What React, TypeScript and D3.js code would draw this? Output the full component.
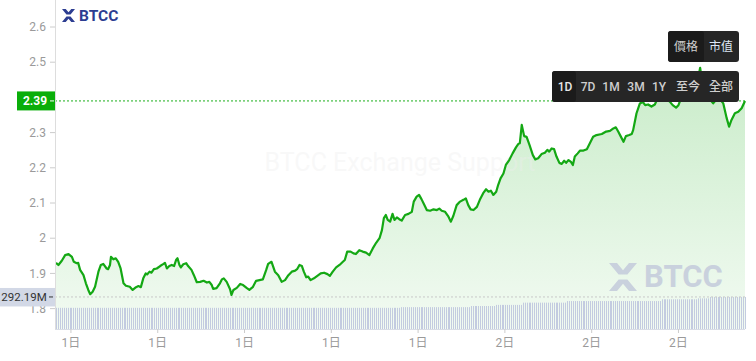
import React from "react";
import * as d3 from "d3";

const W = 756;
const H = 361;

// minutes since 1日 08:29
const priceTimes = [
  0, 5, 12, 19, 26, 33, 37, 43, 46, 50,
  57, 62, 67, 71, 76, 81, 88, 93, 98, 105,
  108, 112, 114, 119, 124, 129, 134, 140, 145, 153,
  159, 166, 171, 176, 181, 186, 189, 194, 198, 203,
  209, 216, 223, 226, 230, 235, 240, 245, 249, 252,
  256, 259, 264, 270, 274, 281, 286, 292, 299, 306,
  313, 318, 323, 326, 333, 340, 344, 348, 354, 361,
  364, 368, 375, 382, 388, 396, 401, 408, 415, 422,
  429, 436, 440, 447, 454, 461, 468, 475, 482, 489,
  496, 500, 505, 510, 514, 519, 523, 528, 535, 542,
  549, 556, 563, 568, 574, 581, 588, 595, 599, 604,
  611, 617, 622, 629, 636, 643, 650, 657, 664, 671,
  676, 680, 684, 688, 693, 698, 702, 707, 712, 717,
  724, 731, 738, 742, 748, 753, 758, 763, 769, 776,
  783, 790, 795, 800, 807, 814, 819, 824, 831, 838,
  845, 850, 855, 860, 866, 873, 879, 886, 892, 897,
  902, 907, 913, 917, 922, 928, 933, 940, 947, 954,
  959, 962, 966, 971, 976, 982, 989, 994, 1000, 1007,
  1014, 1019, 1023, 1028, 1033, 1038, 1044, 1049, 1054, 1058,
  1063, 1068, 1072, 1076, 1082, 1087, 1094, 1101, 1108, 1114,
  1121, 1132, 1141, 1149, 1156, 1161, 1166, 1171, 1177, 1182,
  1189, 1194, 1197, 1204, 1211, 1217, 1222, 1228, 1235, 1242,
  1249, 1257, 1265, 1273, 1279, 1286, 1291, 1298, 1307, 1315,
  1323, 1329, 1336, 1340, 1346, 1352, 1360, 1363, 1369, 1375,
  1384, 1391, 1396, 1401, 1408, 1415, 1422, 1429,
];

const prices = [
  1.930, 1.924, 1.936, 1.952, 1.955, 1.947, 1.933, 1.929, 1.930, 1.910,
  1.895, 1.872, 1.853, 1.841, 1.848, 1.862, 1.905, 1.924, 1.927, 1.914,
  1.912, 1.924, 1.947, 1.940, 1.943, 1.933, 1.914, 1.872, 1.865, 1.862,
  1.853, 1.861, 1.864, 1.861, 1.886, 1.900, 1.897, 1.905, 1.902, 1.912,
  1.914, 1.921, 1.927, 1.930, 1.914, 1.921, 1.924, 1.921, 1.938, 1.943,
  1.924, 1.917, 1.926, 1.929, 1.921, 1.910, 1.895, 1.875, 1.876, 1.879,
  1.874, 1.876, 1.867, 1.856, 1.858, 1.872, 1.883, 1.886, 1.876, 1.855,
  1.839, 1.853, 1.859, 1.870, 1.867, 1.858, 1.853, 1.861, 1.879, 1.881,
  1.883, 1.910, 1.927, 1.933, 1.905, 1.895, 1.876, 1.881, 1.895, 1.905,
  1.908, 1.912, 1.924, 1.921, 1.905, 1.889, 1.891, 1.881, 1.886, 1.893,
  1.900, 1.902, 1.898, 1.893, 1.905, 1.917, 1.924, 1.933, 1.938, 1.962,
  1.962, 1.957, 1.955, 1.966, 1.962, 1.959, 1.952, 1.971, 1.987, 2.000,
  2.023, 2.057, 2.066, 2.052, 2.047, 2.069, 2.052, 2.059, 2.054, 2.050,
  2.066, 2.069, 2.075, 2.104, 2.118, 2.123, 2.111, 2.097, 2.080, 2.078,
  2.082, 2.080, 2.084, 2.078, 2.075, 2.061, 2.047, 2.063, 2.094, 2.104,
  2.109, 2.113, 2.094, 2.082, 2.080, 2.089, 2.109, 2.128, 2.139, 2.132,
  2.135, 2.123, 2.132, 2.151, 2.170, 2.184, 2.208, 2.222, 2.241, 2.258,
  2.268, 2.270, 2.322, 2.290, 2.288, 2.265, 2.236, 2.224, 2.227, 2.239,
  2.243, 2.251, 2.246, 2.255, 2.253, 2.232, 2.214, 2.211, 2.220, 2.214,
  2.222, 2.217, 2.208, 2.232, 2.241, 2.249, 2.249, 2.253, 2.272, 2.288,
  2.293, 2.296, 2.303, 2.305, 2.312, 2.315, 2.303, 2.290, 2.274, 2.290,
  2.293, 2.296, 2.307, 2.355, 2.383, 2.387, 2.378, 2.380, 2.374, 2.380,
  2.401, 2.407, 2.398, 2.388, 2.378, 2.371, 2.378, 2.404, 2.413, 2.404,
  2.421, 2.435, 2.484, 2.444, 2.415, 2.401, 2.388, 2.383, 2.393, 2.398,
  2.383, 2.341, 2.317, 2.336, 2.355, 2.359, 2.369, 2.390,
];

// market cap (millions), step series
const mcapTimes = [0, 713, 859, 910, 968, 1060, 1253, 1329, 1356];
const mcapValues = [244, 247, 252, 257, 267, 274, 282, 286, 292.19];

const lastPriceLabel = "2.39";
const lastMcapLabel = "292.19M";
const modeButtons = ["價格", "市值"];
const rangeButtons = ["1D", "7D", "1M", "3M", "1Y", "至今", "全部"];
const watermarkText = "BTCC Exchange Support";
const brandText = "BTCC";

const START = new Date(2024, 4, 1, 8, 29);
const END_MIN = 1429;
const BAR_STEP = 4;

const FONT = "Roboto, 'Noto Sans CJK TC', 'Noto Sans', sans-serif";

function LogoIcon({ x, y, s, color }: { x: number; y: number; s: number; color: string }) {
  const k = s / 14;
  return (
    <g transform={`translate(${x},${y}) scale(${k})`} fill={color}>
      <path d="M0,0 L4,0 L7,3.6 L10,0 L14,0 L9.2,5.8 L4.8,5.8 Z" />
      <path d="M0,14 L4,14 L7,10.4 L10,14 L14,14 L9.2,8.2 L4.8,8.2 Z" />
    </g>
  );
}

export default function App() {
  const toDate = (m: number) => new Date(START.getTime() + m * 60000);
  const plotL = 55;
  const plotR = 745;
  const plotB = 329;

  const x = d3.scaleTime().domain([toDate(0), toDate(END_MIN)]).range([56, plotR]);
  const y = d3.scaleLinear().domain([1.7421, 2.6767]).range([plotB, 0]);
  const yM = d3.scaleLinear().domain([150, 300]).range([plotB, plotB - 33.8]);

  const data = priceTimes.map((t, i) => ({ t: toDate(t), v: prices[i] }));

  const line = d3
    .line<{ t: Date; v: number }>()
    .x((d) => x(d.t))
    .y((d) => y(d.v));
  const area = d3
    .area<{ t: Date; v: number }>()
    .x((d) => x(d.t))
    .y0(plotB)
    .y1((d) => y(d.v));

  const bars = d3.range(0, END_MIN, BAR_STEP).map((m) => {
    const idx = Math.max(0, d3.bisectRight(mcapTimes, m) - 1);
    return { t: toDate(m), v: mcapValues[idx] };
  });

  const lastPrice = prices[prices.length - 1];
  const lastMcap = mcapValues[mcapValues.length - 1];
  const yLast = y(lastPrice);
  const yLastM = yM(lastMcap);

  // tick labels hidden behind the last-price badge are not drawn
  const yTicks = y
    .ticks(10)
    .filter((t) => t >= 1.8 && t <= 2.6)
    .filter((t) => Math.abs(y(t) - yLast) > 12);
  const xTicks = x.ticks(d3.timeHour.every(3) as any);
  const fmtDay = d3.timeFormat("%-d日");
  const fmtY = d3.format("~g");

  // button layouts
  const modeX = 668, modeY = 31, modeW = 71, modeH = 31;
  const modeCenters = [686, 721];
  const rangeX = 552, rangeY = 71, rangeW = 187, rangeH = 31;
  const rangeCenters = [565, 588, 611, 636, 659, 688, 721];

  return (
    <svg
      width={W}
      height={H}
      style={{ position: "absolute", left: 0, top: 0, background: "#fff" }}
      fontFamily={FONT}
    >
      <defs>
        <linearGradient id="areaGrad" gradientUnits="userSpaceOnUse" x1="0" y1="70" x2="0" y2={plotB}>
          <stop offset="0" stopColor="#2fb52f" stopOpacity={0.26} />
          <stop offset="1" stopColor="#2fb52f" stopOpacity={0.06} />
        </linearGradient>
      </defs>

      {/* area */}
      <path d={area(data) || ""} fill="url(#areaGrad)" />

      {/* market-cap bars */}
      <g stroke="#c3cbe0" strokeWidth={1}>
        {bars.map((b, i) => {
          const bx = Math.round(x(b.t)) + 0.5;
          return <line key={i} x1={bx} x2={bx} y1={plotB} y2={yM(b.v)} />;
        })}
      </g>

      {/* faint watermark text */}
      <text
        x={400}
        y={171}
        textAnchor="middle"
        fontSize={25}
        fill="#eeeeee"
        fillOpacity={0.4}
        fontFamily={FONT}
      >
        {watermarkText}
      </text>

      {/* watermark logo bottom right */}
      <LogoIcon x={609} y={263} s={28} color="#c9d1dd" />
      <text x={644} y={287} fontSize={31} fontWeight={700} fill="#c9d1dd">
        {brandText}
      </text>

      {/* price line */}
      <path d={line(data) || ""} fill="none" stroke="#14a814" strokeWidth={2.2} strokeLinejoin="round" />

      {/* last value dotted lines */}
      <line x1={plotL} x2={plotR} y1={yLast} y2={yLast} stroke="#1cb01c" strokeWidth={1} strokeDasharray="2,2" />
      <line x1={plotL} x2={plotR} y1={yLastM} y2={yLastM} stroke="#c8c8c8" strokeWidth={1} strokeDasharray="2,2" />

      {/* y axis */}
      <line x1={plotL + 0.5} x2={plotL + 0.5} y1={0} y2={plotB} stroke="#dddddd" />
      {yTicks.map((t) => (
        <g key={t}>
          <line x1={50} x2={plotL} y1={y(t)} y2={y(t)} stroke="#cccccc" />
          <text x={46} y={y(t)} dy="0.35em" textAnchor="end" fontSize={12} fill="#9a9a9a">
            {fmtY(t)}
          </text>
        </g>
      ))}

      {/* x axis */}
      <line x1={plotL} x2={plotR} y1={plotB + 0.5} y2={plotB + 0.5} stroke="#d9dde6" />
      {xTicks.map((t, i) => (
        <g key={i}>
          <line x1={x(t)} x2={x(t)} y1={plotB} y2={plotB + 4} stroke="#cccccc" />
          <text x={x(t)} y={343} dy="0.35em" textAnchor="middle" fontSize={12} fill="#9a9a9a">
            {fmtDay(t)}
          </text>
        </g>
      ))}

      {/* last price label */}
      <rect x={17} y={yLast - 9.5} width={plotL - 17} height={19} fill="#0aae0a" />
      <line x1={50} x2={54} y1={yLast} y2={yLast} stroke="#ffffff" />
      <text x={35} y={yLast} dy="0.35em" textAnchor="middle" fontSize={12} fontWeight={700} fill="#ffffff">
        {lastPriceLabel}
      </text>

      {/* last mcap label */}
      <rect x={0} y={yLastM - 9} width={plotL} height={18.5} fill="#d2d8e6" />
      <line x1={49} x2={53} y1={yLastM} y2={yLastM} stroke="#333" />
      <text x={24} y={yLastM} dy="0.35em" textAnchor="middle" fontSize={11.5} fill="#333">
        {lastMcapLabel}
      </text>

      {/* brand logo top-left */}
      <LogoIcon x={62} y={9} s={13} color="#2c3d91" />
      <text x={79} y={21} fontSize={15.5} fontWeight={700} fill="#2c3d91">
        {brandText}
      </text>

      {/* mode buttons */}
      <rect x={modeX} y={modeY} width={modeW} height={modeH} rx={3} fill="#262626" />
      <rect x={modeX} y={modeY} width={36} height={modeH} rx={3} fill="#1b1b1b" />
      {modeButtons.map((b, i) => (
        <text
          key={b}
          x={modeCenters[i]}
          y={modeY + modeH / 2}
          dy="0.35em"
          textAnchor="middle"
          fontSize={12}
          fill={i === 0 ? "#cfcfcf" : "#dde6f5"}
        >
          {b}
        </text>
      ))}

      {/* range buttons */}
      <rect x={rangeX} y={rangeY} width={rangeW} height={rangeH} rx={3} fill="#262626" />
      <rect x={rangeX} y={rangeY} width={24} height={rangeH} rx={3} fill="#1b1b1b" />
      {rangeButtons.map((b, i) => (
        <text
          key={b}
          x={rangeCenters[i]}
          y={rangeY + rangeH / 2}
          dy="0.35em"
          textAnchor="middle"
          fontSize={12}
          fontWeight={500}
          fill={i === 0 ? "#e6e6e6" : "#cfcfcf"}
        >
          {b}
        </text>
      ))}
    </svg>
  );
}
